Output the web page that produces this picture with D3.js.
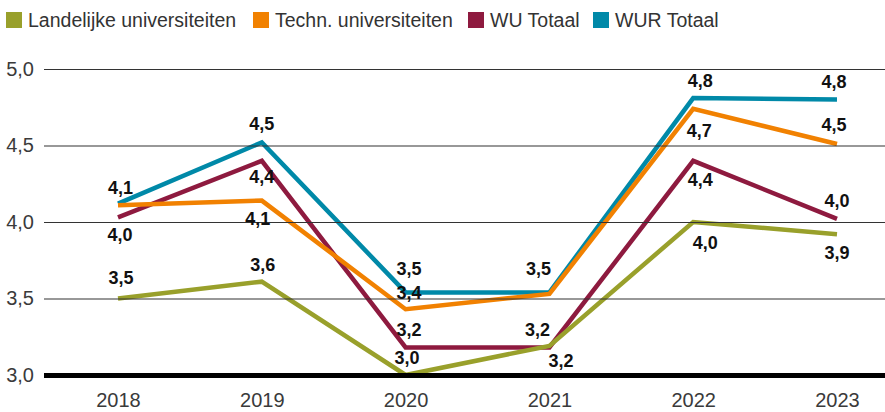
<!DOCTYPE html>
<html>
<head>
<meta charset="utf-8">
<script src="https://cdn.jsdelivr.net/npm/d3@7"></script>
<style>
  html, body { margin: 0; padding: 0; background: #fff; }
  svg { display: block; font-family: "Liberation Sans", Arial, sans-serif; }
</style>
</head>
<body>
<svg id="chart" width="885" height="412"></svg>
<script>
// ---- data ----
const years = ["2018", "2019", "2020", "2021", "2022", "2023"];
const seriesNames = ["Landelijke universiteiten", "Techn. universiteiten", "WU Totaal", "WUR Totaal"];
const landelijk = [3.50, 3.61, 3.00, 3.19, 4.00, 3.92];
const techn     = [4.11, 4.14, 3.43, 3.53, 4.74, 4.51];
const wuTotaal  = [4.03, 4.40, 3.18, 3.18, 4.40, 4.02];
const wurTotaal = [4.12, 4.52, 3.54, 3.54, 4.81, 4.80];
const yTicks = [3.0, 3.5, 4.0, 4.5, 5.0];

// ---- style / layout (kept apart from data) ----
const colors = ["#99a02b", "#f18101", "#8e1a3f", "#0089a8"];
const legendX = [6, 253, 468, 593];
// label offsets [dx, dy] from the point (null = no label)
const labelOffsets = [
  [[3,-15],[1,-11],[1.5,-11],[11.5,21],[12,26.5],[0,24.5]],
  [null,[-4,24],[3.5,-10],null,[6,28],[-3,-13]],
  [[2,23.5],[0,22.5],[3.5,-11],[-12,-11],[7,25],[0,-12]],
  [[2.5,-10],[0,-12],[3.5,-17],[-11,-17],[7,-11],[-3,-12]]
];

const svg = d3.select("#chart");
const W = 885, H = 412;
const x = d3.scalePoint().domain(years).range([118, 837]);
const y = d3.scaleLinear().domain([3, 5]).range([375, 69]);
const left = 44;

const locale = d3.formatLocale({decimal: ",", thousands: ".", grouping: [3], currency: ["€", ""]});
const fmt = locale.format(".1f");

const allSeries = [landelijk, techn, wuTotaal, wurTotaal];

// lines (draw order: WUR, WU, Techn, Landelijk)
const line = d3.line().x((d, i) => x(years[i])).y(d => y(d));
const gLines = svg.append("g");
[3, 2, 1, 0].forEach(si => {
  gLines.append("path")
    .datum(allSeries[si])
    .attr("d", line)
    .attr("fill", "none")
    .attr("stroke", colors[si])
    .attr("stroke-width", 4.5)
    .attr("stroke-linejoin", "miter")
    .attr("stroke-linecap", "butt");
});

// y axis gridlines and labels
const yAxis = d3.axisLeft(y).tickValues(yTicks).tickFormat(fmt).tickSize(-(W - left)).tickPadding(10);
const gy = svg.append("g").attr("transform", `translate(${left},0)`).call(yAxis);
gy.select(".domain").remove();
gy.selectAll(".tick line")
  .attr("stroke-width", d => d === 3 ? 5 : 1.1)
  .attr("stroke", d => d === 3 ? "#000" : "#333");
gy.selectAll(".tick text")
  .attr("fill", "#3a3a3a")
  .attr("font-size", 20)
  .attr("font-family", "Liberation Sans, Arial, sans-serif");

// x axis labels
const xAxis = d3.axisBottom(x).tickSize(0).tickPadding(0);
const gx = svg.append("g").attr("transform", `translate(0,${y(3)})`).call(xAxis);
gx.select(".domain").remove();
gx.selectAll(".tick text")
  .attr("fill", "#3a3a3a")
  .attr("font-size", 20)
  .attr("dy", null)
  .attr("y", 32)
  .attr("font-family", "Liberation Sans, Arial, sans-serif");

// data labels
const gLab = svg.append("g");
allSeries.forEach((vals, si) => {
  vals.forEach((v, i) => {
    const off = labelOffsets[si][i];
    if (!off) return;
    gLab.append("text")
      .attr("x", x(years[i]) + off[0])
      .attr("y", y(v) + off[1])
      .attr("text-anchor", "middle")
      .attr("font-size", 18)
      .attr("font-weight", "bold")
      .attr("fill", "#111")
      .text(fmt(v));
  });
});

// legend
const gLeg = svg.append("g");
seriesNames.forEach((name, i) => {
  gLeg.append("rect").attr("x", legendX[i]).attr("y", 12).attr("width", 16).attr("height", 16).attr("fill", colors[i]);
  gLeg.append("text")
    .attr("x", legendX[i] + 22).attr("y", 27)
    .attr("font-size", 19.5).attr("fill", "#333")
    .text(name);
});
</script>
</body>
</html>
